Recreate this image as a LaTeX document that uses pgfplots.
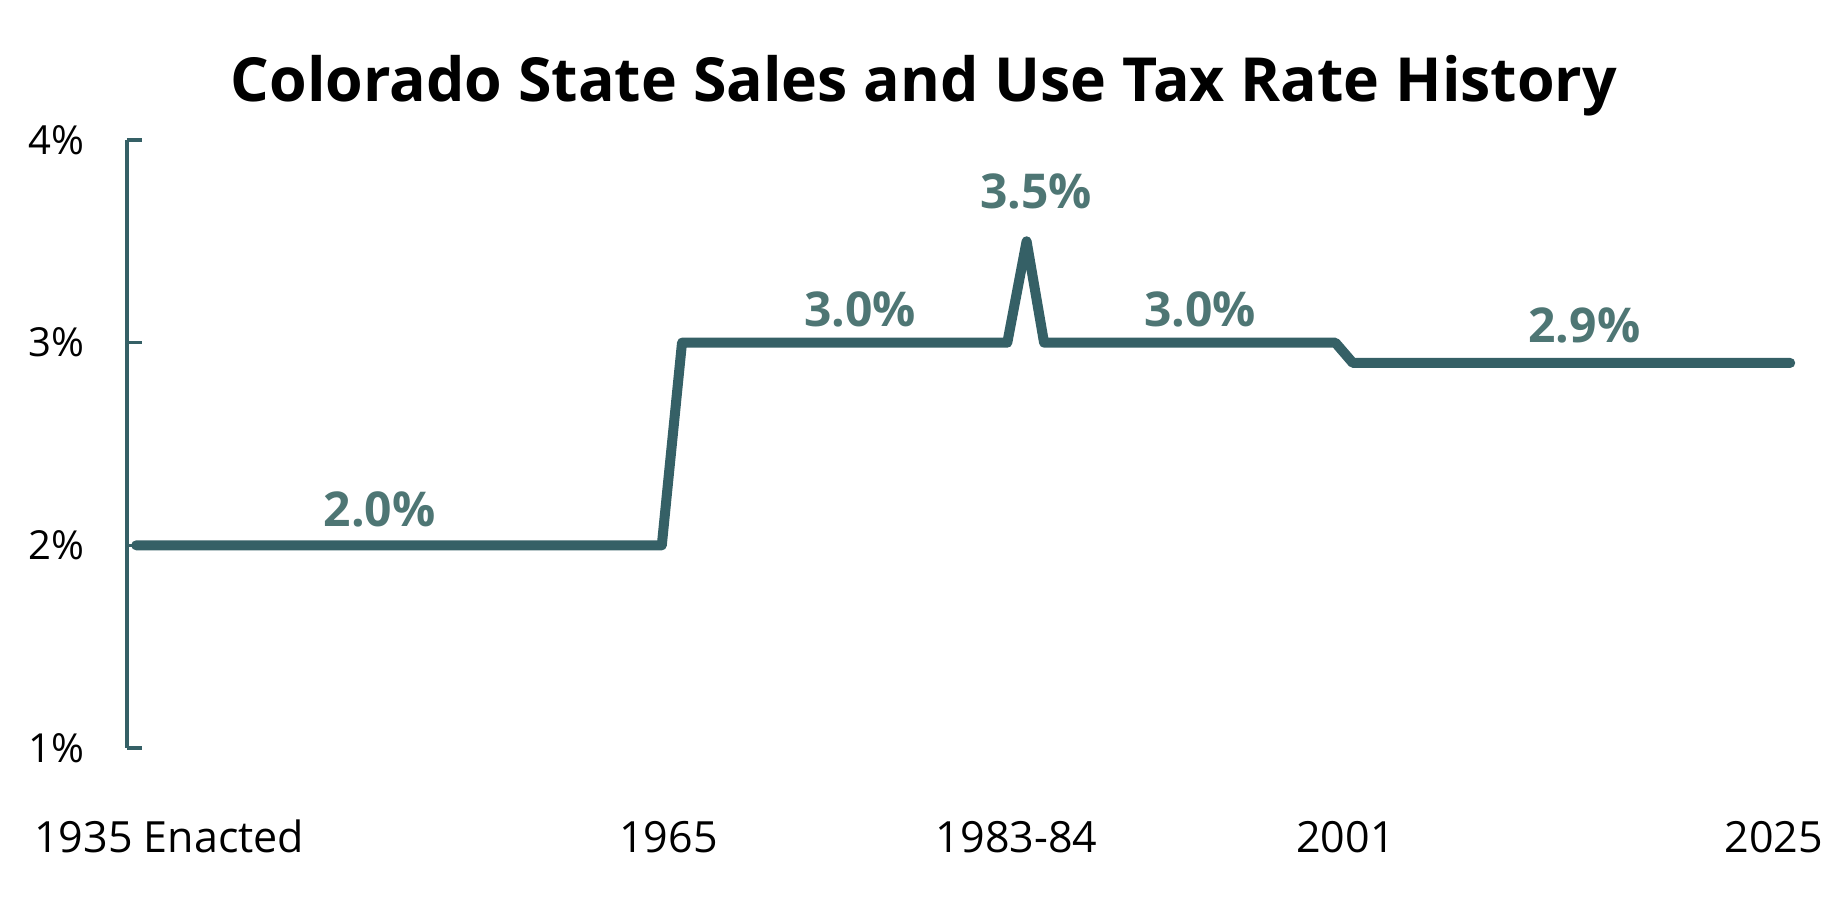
\documentclass[border=0pt]{standalone}
\usepackage{fontspec}
\setmainfont{Open Sans}
\usepackage{pgfplots}
\pgfplotsset{compat=1.18}
\definecolor{linec}{HTML}{356066}
\definecolor{labc}{HTML}{4E7674}
\begin{document}
\begin{tikzpicture}
\useasboundingbox (-63.5pt,-80pt) rectangle (860.5pt,374pt);
\begin{axis}[
 scale only axis, width=836.2pt, height=304pt,
 xmin=1934.5, xmax=2025.5, ymin=1, ymax=4,
 axis lines*=left,
 x axis line style={draw=none},
 y axis line style={draw=linec, line width=1.6pt, -},
 ytick={1,2,3,4}, yticklabels={1\%,2\%,3\%,4\%},
 xtick={1936.8,1963.96,1982.9,2000.8,2024.1},
 xticklabels={1935 Enacted,1965,1983-84,2001,2025},
 xtick style={draw=none},
 ytick style={draw=linec, line width=1.6pt},
 tick align=inside, major tick length=7.5pt,
 yticklabel style={font=\fontsize{20}{24}\selectfont, inner sep=0pt, anchor=east, xshift=-21pt},
 xticklabel style={font=\fontsize{21.5}{26}\selectfont, inner sep=0pt, anchor=base, yshift=-52.5pt},
 /pgf/number format/assume math mode=true,
 clip=false,
]
\addplot[linec, line width=5pt, line cap=round, line join=round] coordinates {
(1935,2) (1963.6,2) (1964.7,3) (1982.4,3) (1983.45,3.5) (1984.4,3) (2000.25,3) (2001.2,2.9) (2025,2.9)};
\begin{scope}[every node/.style={font=\bfseries\fontsize{24}{28}\selectfont, text=labc}]
\node at (axis cs:1948.25,2.175) {2.0\%};
\node at (axis cs:1974.4,3.166) {3.0\%};
\node at (axis cs:1983.97,3.748) {3.5\%};
\node at (axis cs:1992.9,3.166) {3.0\%};
\node at (axis cs:2013.8,3.087) {2.9\%};
\end{scope}
\end{axis}
\node[font=\bfseries\fontsize{30.4}{36}\selectfont] at (398.5pt,331pt) {Colorado State Sales and Use Tax Rate History};
\end{tikzpicture}
\end{document}
